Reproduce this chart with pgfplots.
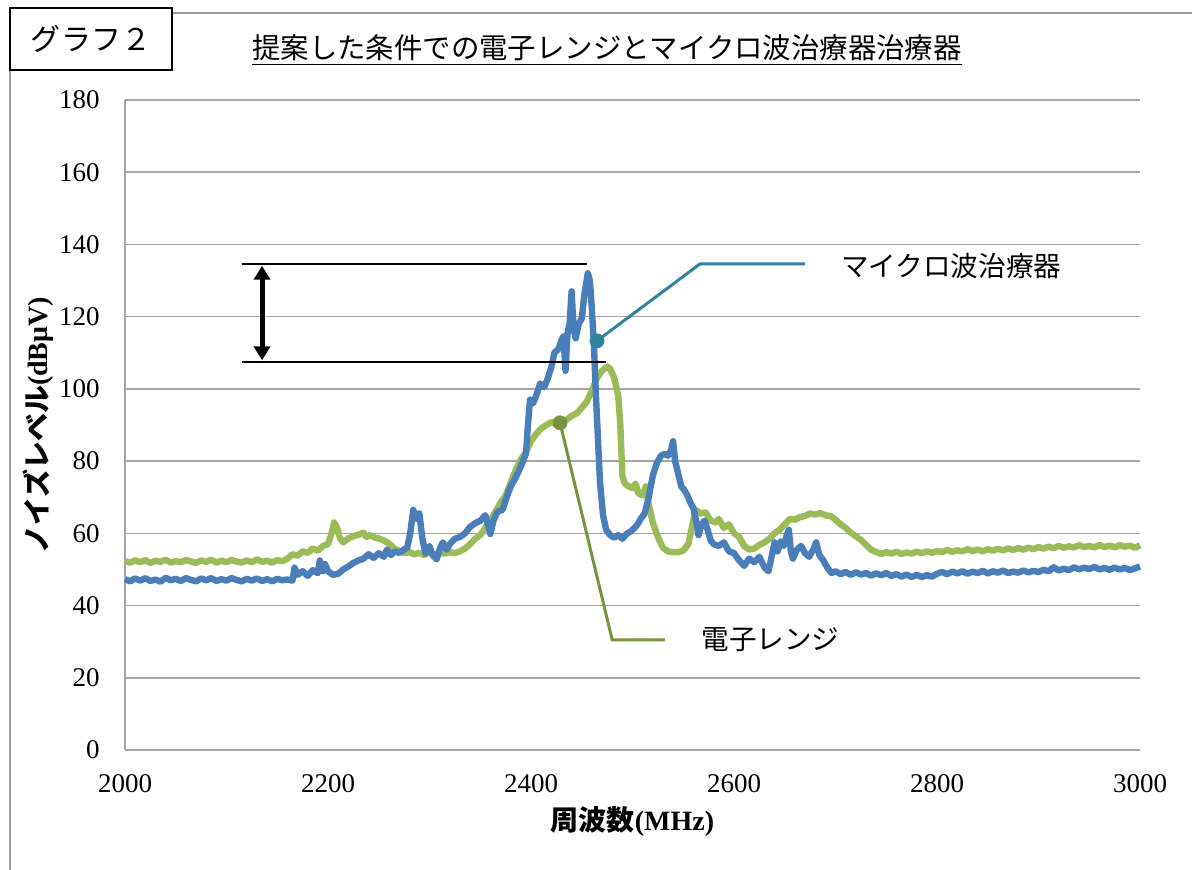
\documentclass[border=0pt]{standalone}
\usepackage{fontspec}
\setmainfont{Liberation Serif}
\newfontfamily\cjk{Noto Sans CJK JP}
\usepackage{pgfplots}
\pgfplotsset{compat=1.18}
\usetikzlibrary{arrows.meta}
\definecolor{serblue}{HTML}{4A7EBB}
\definecolor{sergreen}{HTML}{9BBB59}
\definecolor{callteal}{HTML}{31849B}
\definecolor{callolive}{HTML}{77933C}
\definecolor{gridgray}{HTML}{A6A6A6}
\definecolor{framegray}{HTML}{9A9A9A}
\begin{document}
\begin{tikzpicture}
\path[use as bounding box] (0,0) rectangle (596pt,435pt);
% page frame
\draw[framegray, line width=1pt] (5pt,0) -- (5pt,400pt);
\draw[framegray, line width=1pt] (86pt,428.5pt) -- (596pt,428.5pt);
\draw[black, line width=0.8pt, fill=white] (5pt,400pt) rectangle (86pt,431pt);
\node at (45.5pt,415.5pt) {\cjk\fontsize{15pt}{18pt}\selectfont グラフ２};
\node at (303.5pt,410pt) {\cjk\fontsize{14.2pt}{17pt}\selectfont\underline{提案した条件での電子レンジとマイクロ波治療器治療器}};
\begin{axis}[
  at={(62.5pt,60pt)}, anchor=south west,
  scale only axis, width=507.5pt, height=325pt,
  xmin=2000, xmax=3000, ymin=0, ymax=180,
  xtick={2000,2200,...,3000}, ytick={0,20,...,180},
  axis x line*=bottom, axis y line*=left,
  axis line style={-, draw=gridgray, line width=0.8pt},
  ymajorgrids, grid style={gridgray, line width=0.8pt},
  tick style={draw=none},
  /pgf/number format/assume math mode=true,
  /pgf/number format/1000 sep={},
  ticklabel style={font=\fontsize{13.5pt}{16pt}\selectfont},
  yticklabel style={inner sep=0pt, anchor=east, xshift=-12.5pt},
  xticklabel style={inner sep=0pt, anchor=north, yshift=-12pt},
  xlabel={{\cjk\bfseries 周波数}\textbf{(MHz)}},
  ylabel={{\cjk\bfseries ノイズレベル}\textbf{(dBμV)}},
  label style={font=\fontsize{14pt}{16pt}\selectfont},
  xlabel style={at={(rel axis cs:0.5,0)}, anchor=center, yshift=-36pt},
  ylabel style={at={(rel axis cs:0,0.5)}, anchor=center, rotate=0, yshift=43.5pt},
  clip=false,
]
% 電子レンジ
\addplot[sergreen, line width=3.2pt, line join=round] coordinates {
(2000,52.3)(2005,51.9)(2010,52.5)(2015,52.0)(2020,52.6)(2025,51.8)(2030,52.4)(2035,52.1)(2040,52.7)(2045,51.9)
(2050,52.3)(2055,52.0)(2060,52.6)(2065,52.2)(2070,51.8)(2075,52.5)(2080,52.1)(2085,52.7)(2090,51.9)(2095,52.4)
(2100,52.0)(2105,52.6)(2110,52.2)(2115,51.9)(2120,52.5)(2125,52.0)(2130,52.8)(2135,52.1)(2140,52.4)(2145,51.9)
(2150,52.6)(2155,52.3)(2160,53.0)(2165,54.2)(2170,53.8)(2175,55.0)
(2180,54.6)(2185,55.8)(2190,55.2)(2195,56.5)(2200,57.0)(2203,59.5)(2206,63.0)(2209,61.5)(2212,58.5)(2215,57.5)
(2220,58.6)(2225,59.2)(2230,59.6)(2235,60.2)(2238,59.0)(2242,59.5)(2246,58.8)(2250,58.6)(2255,58.0)(2260,57.2)
(2265,55.8)(2270,55.2)(2275,54.6)(2280,54.8)(2285,54.2)(2290,54.6)(2295,54.0)(2300,54.8)(2305,54.2)(2310,54.6)
(2315,54.4)(2320,54.8)(2325,54.5)(2330,55.0)(2335,55.8)(2340,57.0)(2345,58.5)(2350,59.5)(2355,61.5)(2360,63.5)
(2365,66.0)(2370,68.5)(2375,70.5)(2380,74.0)(2385,77.5)(2390,80.5)(2395,82.5)(2400,85.5)(2405,87.5)(2410,89.0)
(2415,90.0)(2420,90.8)(2425,90.2)(2430,90.8)(2435,91.5)(2440,92.5)(2445,93.2)(2450,94.8)(2455,96.5)(2460,99.5)
(2465,103.0)(2470,105.0)(2475,106.2)(2478,105.5)(2482,103.0)(2486,98.0)(2488,90.0)(2490,76.0)(2492,74.0)(2495,73.2)
(2500,72.5)(2503,73.8)(2506,71.0)(2510,70.5)(2513,73.0)(2516,68.0)(2520,63.0)(2525,59.0)(2530,56.0)(2535,55.0)
(2540,54.8)(2545,54.8)(2550,55.2)(2555,57.0)(2558,61.0)(2562,66.5)(2567,65.5)(2572,65.8)(2577,63.5)(2582,63.0)
(2585,64.0)(2590,61.5)(2595,62.5)(2600,60.0)(2605,59.0)(2610,56.5)(2615,55.5)(2620,55.8)(2625,56.8)(2630,57.5)
(2635,58.5)(2640,60.0)(2645,61.0)(2650,62.5)(2655,64.0)(2660,63.8)(2665,64.5)(2670,64.8)(2675,65.5)(2680,65.2)
(2685,65.6)(2690,65.0)(2695,64.8)(2700,63.8)(2705,62.5)(2710,61.5)(2715,60.2)(2720,59.2)(2725,58.2)(2730,56.8)
(2735,55.5)(2740,54.8)(2745,54.3)(2750,54.8)(2755,54.4)(2760,54.9)(2765,54.3)(2770,54.7)(2775,54.4)(2780,54.9)
(2785,54.5)(2790,55.0)(2795,54.6)(2800,55.1)(2805,54.8)(2810,55.4)(2815,54.9)(2820,55.3)(2825,55.0)(2830,55.6)
(2835,55.1)(2840,55.5)(2845,55.0)(2850,55.6)(2855,55.2)(2860,55.7)(2865,55.3)(2870,55.8)(2875,55.4)(2880,55.9)
(2885,55.5)(2890,56.0)(2895,55.6)(2900,56.2)(2905,55.8)(2910,56.3)(2915,55.9)(2920,56.5)(2925,56.0)(2930,56.4)
(2935,56.1)(2940,56.7)(2945,56.2)(2950,56.5)(2955,56.1)(2960,56.8)(2965,56.2)(2970,56.6)(2975,56.1)(2980,56.7)
(2985,56.3)(2990,56.6)(2995,56.0)(3000,56.7)
};
% マイクロ波治療器
\addplot[serblue, line width=3.2pt, line join=round] coordinates {
(2000,47.3)(2005,46.7)(2010,47.5)(2015,46.9)(2020,47.6)(2025,46.8)(2030,47.2)(2035,46.6)(2040,47.7)(2045,47.0)
(2050,47.4)(2055,46.8)(2060,47.6)(2065,47.1)(2070,46.7)(2075,47.5)(2080,47.0)(2085,47.6)(2090,46.8)(2095,47.3)
(2100,46.9)(2105,47.6)(2110,47.1)(2115,46.7)(2120,47.4)(2125,46.9)(2130,47.5)(2135,46.8)(2140,47.3)(2145,46.7)
(2150,47.4)(2155,47.0)(2160,47.2)(2165,46.9)(2167,50.5)(2170,48.5)
(2175,49.5)(2180,48.2)(2185,49.8)(2190,49.0)(2192,52.5)(2195,49.5)(2197,51.5)(2200,49.5)(2205,48.5)(2210,48.8)
(2215,50.0)(2220,50.8)(2225,51.8)(2230,52.5)(2235,53.0)(2240,54.2)(2245,53.2)(2250,54.5)(2255,53.5)(2258,55.5)
(2262,54.0)(2266,55.0)(2270,54.6)(2275,55.5)(2278,56.0)(2281,60.0)(2284,66.5)(2287,64.0)(2290,65.5)(2293,58.5)
(2296,54.5)(2300,56.5)(2303,54.0)(2307,52.8)(2310,55.5)(2313,57.5)(2317,55.5)(2320,57.0)(2325,58.5)(2330,59.0)
(2335,60.0)(2340,61.8)(2345,62.8)(2350,63.5)(2355,65.0)(2358,62.0)(2360,59.8)(2363,63.5)(2367,66.0)(2372,66.5)
(2376,70.0)(2380,73.0)(2385,75.5)(2390,78.5)(2395,82.0)(2397,90.0)(2399,97.0)(2402,96.0)(2405,98.0)(2409,101.5)
(2413,100.5)(2416,102.5)(2420,106.0)(2423,110.0)(2427,111.0)(2430,113.5)(2432,114.5)(2434,105.0)(2436,115.5)(2438,118.0)
(2440,127.0)(2442,116.5)(2444,114.0)(2447,118.0)(2450,119.5)(2453,127.0)(2456,132.0)(2458,130.0)(2460,122.0)(2462,112.0)
(2464,98.0)(2466,86.0)(2468,74.0)(2471,65.0)(2474,61.0)(2478,59.5)(2482,58.8)(2486,59.5)(2490,58.5)(2494,59.8)
(2498,60.5)(2502,61.5)(2505,62.5)(2508,64.0)(2512,65.5)(2516,70.0)(2520,76.0)(2524,79.5)(2528,81.5)(2532,82.0)
(2535,81.5)(2538,83.0)(2540,85.5)(2542,80.0)(2545,76.5)(2548,73.0)(2551,72.0)(2554,70.5)(2557,68.5)(2560,67.0)
(2563,63.0)(2565,59.5)(2568,62.5)(2571,63.5)(2574,61.0)(2577,58.0)(2580,57.0)(2585,56.5)(2590,57.5)(2595,55.0)
(2600,54.5)(2605,52.5)(2610,51.0)(2615,53.0)(2620,52.0)(2625,53.5)(2630,50.5)(2634,49.5)(2637,53.5)(2640,57.5)
(2643,55.0)(2646,57.8)(2649,56.5)(2652,59.5)(2654,61.0)(2656,55.0)(2658,53.0)(2662,55.5)(2666,56.5)(2670,54.5)
(2674,53.5)(2678,55.5)(2681,57.5)(2684,54.0)(2688,52.5)(2692,50.5)(2696,49.0)
(2700,49.5)(2705,48.7)(2710,49.3)(2715,48.5)(2720,49.2)(2725,48.6)(2730,49.0)(2735,48.3)(2740,48.9)(2745,48.4)
(2750,49.0)(2755,48.2)(2760,48.7)(2765,48.0)(2770,48.6)(2775,47.9)(2780,48.5)(2785,47.9)(2790,48.4)(2795,48.0)
(2800,48.8)(2805,49.3)(2810,48.7)(2815,49.4)(2820,48.9)(2825,49.5)(2830,48.8)(2835,49.4)(2840,49.0)(2845,49.6)
(2850,48.9)(2855,49.5)(2860,49.1)(2865,49.7)(2870,49.0)(2875,49.4)(2880,49.1)(2885,49.7)(2890,49.2)(2895,49.6)
(2900,49.3)(2905,49.9)(2910,49.5)(2915,50.6)(2920,49.7)(2925,50.2)(2930,49.8)(2935,50.6)(2940,50.0)(2945,50.5)
(2950,50.1)(2955,50.7)(2960,50.0)(2965,50.4)(2970,49.9)(2975,50.5)(2980,50.0)(2985,50.4)(2990,49.8)(2995,50.3)
(3000,50.8)
};
% reference lines and arrow
\addplot[black, line width=1pt] coordinates {(2115,134.6)(2455,134.6)};
\addplot[black, line width=1pt] coordinates {(2115,107.4)(2474,107.4)};
\addplot[black, line width=2.5pt, {Triangle[width=8pt,length=7pt]}-{Triangle[width=8pt,length=7pt]}] coordinates {(2135,107.9)(2135,134.1)};
% callouts
\addplot[callteal, line width=1.5pt] coordinates {(2465,113.3)(2566.5,134.6)(2670,134.6)};
\addplot[callteal, only marks, mark=*, mark size=3.5pt] coordinates {(2465,113.3)};
\addplot[callolive, line width=1.5pt] coordinates {(2428.6,90.6)(2480,30.5)(2532,30.5)};
\addplot[callolive, only marks, mark=*, mark size=3.5pt] coordinates {(2428.6,90.6)};
\node[anchor=center] at (axis cs:2814,134) {\cjk\fontsize{13.8pt}{16pt}\selectfont マイクロ波治療器};
\node[anchor=center] at (axis cs:2636,30.5) {\cjk\fontsize{13.8pt}{16pt}\selectfont 電子レンジ};
\end{axis}
\end{tikzpicture}
\end{document}
